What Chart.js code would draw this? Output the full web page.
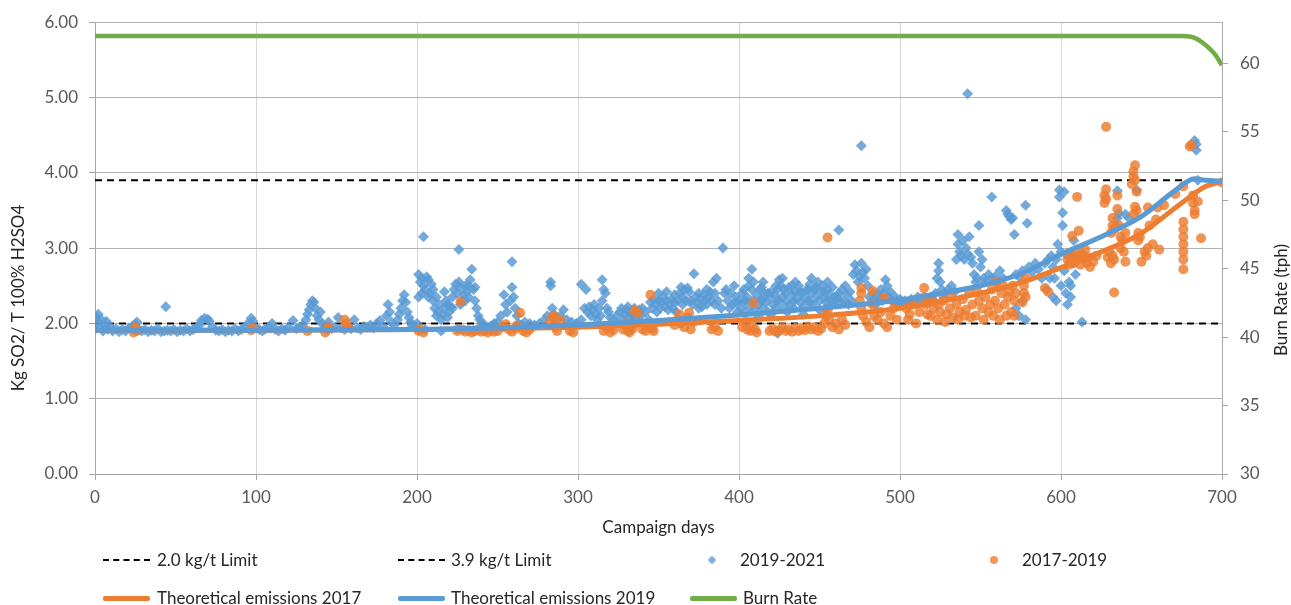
<!DOCTYPE html>
<html><head><meta charset="utf-8">
<script src="https://cdn.jsdelivr.net/npm/chart.js@4.4.0/dist/chart.umd.min.js"></script>
<style>
html,body{margin:0;padding:0;background:#fff;}
#wrap{position:relative;width:1291px;height:605px;overflow:hidden;}
canvas{position:absolute;left:0;top:0;}
.lg{position:absolute;font-family:Lato,'Open Sans',sans-serif;font-size:17px;color:#262626;white-space:nowrap;line-height:20px;}
.sw{position:absolute;}
</style></head>
<body><div id="wrap"><canvas id="c" width="1291" height="605"></canvas><div id="legend"></div></div>
<script>
// ---- DATA ----
const xTicks = [0,100,200,300,400,500,600,700];
const limit20 = [[0,2.0],[700,2.0]];
const limit39 = [[0,3.9],[700,3.9]];

// 2019-2021 measured points [campaign day, kg SO2/t]
const s2019 = [
[0,1.92],[1,2.08],[2,2.12],[2,2.02],[3,1.95],[4,2.05],[5,1.9],[6,1.98],[7,2.03],[8,1.92],[9,1.97],
[11,1.9],[13,1.93],[15,1.89],[17,1.92],[19,1.9],[21,1.94],[23,1.96],[25,1.99],[26,2.02],[27,1.93],[29,1.9],[31,1.92],[33,1.89],[35,1.91],[37,1.9],[39,1.93],[41,1.89],[43,1.9],[44,2.22],[45,1.91],[47,1.9],[49,1.92],[51,1.89],[53,1.91],[55,1.9],[57,1.93],[59,1.9],[61,1.92],[63,1.94],[65,1.98],[66,2.04],[68,2.07],[70,2.06],[71,2.03],[73,1.95],[75,1.91],[77,1.9],[79,1.92],[81,1.89],[83,1.91],[85,1.9],[87,1.93],[89,1.9],[91,1.92],[93,1.95],[95,2.0],[97,2.07],[98,2.03],[100,1.94],
[102,1.92],[104,1.9],[106,1.93],[108,1.95],[110,2.0],[112,1.92],[114,1.9],[116,1.93],[118,1.91],[120,1.95],[123,2.04],[125,1.93],[127,1.95],[129,1.98],[131,2.05],[132,2.12],[133,2.18],[134,2.25],[135,2.3],[136,2.28],[137,2.2],[138,2.1],[139,2.05],[140,2.15],[141,2.0],[143,1.96],[145,2.02],[147,1.93],[149,1.95],[151,2.08],[153,1.94],[155,1.92],[157,1.95],[159,1.93],[161,2.05],[163,1.94],[165,1.92],[167,1.96],[169,1.95],[171,1.98],[173,1.94],[175,2.0],[177,2.04],[179,1.96],[181,2.1],[182,2.25],[183,2.15],[184,2.02],[186,1.98],[188,2.05],[189,2.12],[190,2.2],[191,2.3],[192,2.38],[193,2.28],[194,2.15],[195,2.08],[196,2.02],[197,1.97],[199,1.95],[200,2.0],
[201,2.35],[201,2.65],[202,2.55],[203,2.6],[203,2.4],[204,3.15],[204,2.5],[205,2.45],[205,1.92],[206,2.62],[207,2.58],[207,2.35],[208,2.4],[209,2.52],[210,2.3],[210,2.45],[211,2.2],[212,2.1],[212,2.35],[213,2.15],[214,2.25],[215,2.05],[215,1.9],[216,2.12],[217,2.42],[217,2.2],[218,2.3],[219,2.08],[219,2.25],[220,2.15],[221,2.22],[222,2.35],[222,2.2],[223,2.45],[224,2.52],[225,2.4],[225,1.93],[226,2.98],[226,2.55],[227,2.48],[227,2.25],[228,2.3],[229,2.38],[230,2.5],[230,2.3],[231,2.42],[232,2.35],[232,2.5],[233,2.58],[234,2.72],[235,2.45],[235,1.91],[236,2.3],[236,2.48],[237,2.2],[238,2.1],[239,2.05],[240,2.0],[242,1.98],[244,1.95],[245,1.92],[246,1.97],[248,2.0],[250,2.02],[252,2.1],[254,2.38],[255,2.25],[256,2.15],[258,2.3],[259,2.82],[259,2.48],[260,2.35],[261,2.2],[262,2.1],[263,2.0],[265,1.98],[267,2.02],[270,2.0],[273,1.98],[276,2.0],[279,2.05],[281,2.1],[283,2.5],[283,2.55],[284,2.2],[285,2.12],[287,2.05],[289,2.1],[291,2.18],[293,2.05],[296,2.02],[299,2.0],
[302,2.05],[302,2.52],[304,2.2],[305,2.45],[306,2.15],[307,2.22],[308,2.1],[309,2.18],[310,2.25],[311,2.12],[312,2.05],[313,2.2],[314,2.1],[315,2.3],[315,2.58],[316,2.45],[317,2.4],[318,2.2],[319,2.15],[320,2.08],[322,2.05],[324,2.1],[326,2.15],[327,2.2],[328,2.05],[329,2.12],[330,2.18],[331,2.22],[332,2.08],[333,2.15],[334,2.1],[335,2.2],[336,2.05],[337,2.12],[338,2.18],[339,2.1],[340,2.2],[342,2.15],[344,2.05],[345,2.28],[346,2.2],[347,2.32],[348,2.25],[349,2.15],[350,2.3],[350,2.4],[351,2.2],[352,2.28],[353,2.35],[354,2.22],[355,2.3],[355,2.42],[356,2.18],[357,2.25],[358,2.32],[359,2.2],[360,2.28],[360,2.38],[361,2.15],[362,2.3],[363,2.4],[364,2.48],[365,2.35],[365,2.25],[366,2.45],[367,2.3],[368,2.47],[369,2.42],[370,2.3],[371,2.25],[372,2.66],[373,2.35],[374,2.28],[375,2.4],[375,2.2],[376,2.32],[377,2.22],[378,2.38],[379,2.3],[380,2.25],[380,2.45],[381,2.35],[382,2.42],[383,2.3],[384,2.55],[385,2.25],[385,2.4],[386,2.6],[387,2.3],[389,2.2],[390,3.0],[391,2.4],[392,2.45],[393,2.3],[394,2.2],[395,2.4],[396,2.25],[397,2.5],[398,2.35],[398,2.28],[399,2.15],[400,2.3],
[401,2.2],[402,2.4],[403,2.28],[403,2.45],[404,2.15],[404,2.3],[405,2.35],[406,2.5],[406,2.6],[407,2.22],[408,2.72],[408,2.45],[409,2.3],[409,2.55],[410,2.18],[411,2.38],[412,2.25],[412,2.1],[413,2.45],[414,2.32],[414,2.48],[414,2.3],[415,2.2],[415,2.55],[416,2.4],[417,2.28],[418,2.15],[418,2.4],[419,2.35],[420,2.42],[420,2.12],[421,2.25],[422,2.38],[423,2.2],[423,2.5],[424,2.45],[424,2.3],[424,1.87],[425,2.3],[425,2.58],[426,2.5],[427,2.6],[427,2.35],[428,2.22],[428,2.45],[429,2.4],[430,2.3],[430,2.15],[431,2.48],[432,2.25],[433,2.38],[433,2.5],[434,2.2],[434,2.3],[435,2.42],[435,2.55],[436,2.32],[437,2.5],[438,2.28],[438,2.42],[439,2.4],[440,2.22],[440,2.12],[441,2.35],[442,2.45],[443,2.3],[443,2.45],[444,2.52],[444,2.28],[445,2.4],[445,2.6],[446,2.25],[447,2.45],[448,2.35],[448,2.48],[449,2.55],[450,2.3],[450,2.18],[451,2.42],[452,2.5],[453,2.35],[453,2.42],[454,2.28],[454,2.2],[455,2.45],[455,2.55],[456,2.38],[457,2.3],[458,2.25],[458,2.48],[459,2.35],[460,2.3],
[461,2.35],[462,3.24],[462,2.4],[463,2.28],[464,2.45],[465,2.3],[466,2.5],[467,2.38],[468,2.25],[469,2.42],[470,2.3],[471,2.65],[472,2.78],[473,2.7],[474,2.55],[475,2.62],[476,4.36],[476,2.8],[477,2.68],[478,2.6],[479,2.72],[480,2.5],[481,2.35],[482,2.28],[483,2.4],[484,2.3],[485,2.25],[486,2.38],[487,2.32],[488,2.45],[489,2.3],[490,2.4],[491,2.58],[492,2.5],[493,2.35],[494,2.42],[495,2.3],[496,2.28],[497,2.35],[498,2.3],[499,2.25],[500,2.32],
[501,2.28],[503,2.3],[505,2.25],[507,2.32],[509,2.28],[511,2.35],[513,2.3],[515,2.32],[517,2.28],[519,2.35],[521,2.3],[522,2.4],[523,2.6],[524,2.7],[524,2.8],[525,2.55],[526,2.45],[527,2.35],[528,2.4],[530,2.45],[532,2.5],[534,2.42],[535,2.85],[536,3.18],[536,3.05],[537,2.95],[538,2.9],[539,3.1],[540,2.85],[541,3.0],[542,5.05],[542,2.92],[543,3.15],[544,2.88],[545,2.8],[546,2.65],[547,2.55],[548,2.6],[549,3.3],[549,2.95],[550,2.75],[551,2.85],[552,2.6],[553,2.55],[555,2.65],[557,3.68],[557,2.6],[559,2.62],[560,2.55],[562,2.7],[564,2.6],
[566,3.5],[567,3.45],[568,3.42],[569,3.38],[570,3.4],[571,3.18],[572,2.65],[572,2.2],[574,2.62],[574,2.1],[576,2.7],[576,2.3],[578,3.57],[578,2.05],[579,3.33],[580,2.75],[582,2.68],[584,2.8],[586,2.72],[588,2.6],[590,2.8],[591,2.45],[592,2.85],[593,2.6],[594,2.9],[595,2.75],[595,2.35],[596,2.6],[597,2.85],[597,2.3],[598,3.05],[599,3.68],[599,3.77],[600,2.95],[600,2.5],[601,3.3],[601,3.47],[602,3.75],[602,2.7],[603,2.4],[604,2.9],[604,2.25],[605,2.55],[606,2.35],[606,2.5],[607,2.8],[608,3.1],[609,2.65],[610,2.85],[613,2.02],
[634,3.3],[635,3.4],[635,3.76],[636,3.46],[640,3.45],[642,3.4],[647,3.77],[683,4.43],[684,4.38],[684,4.3],[685,3.9]
];

// 2017-2019 measured points [campaign day, kg SO2/t]
const s2017 = [
[24,1.88],[25,1.92],[25,1.95],[26,1.9],[97,1.91],[98,1.94],[132,1.9],[143,1.88],[144,1.92],[145,1.95],[155,2.05],[156,2.0],[157,1.96],[201,1.9],[202,1.92],[204,1.88],
[225,1.9],[227,2.29],[228,1.92],[230,1.89],[232,1.91],[234,1.88],[236,1.9],[238,1.92],[240,1.89],[242,1.9],[244,1.88],[246,1.91],[248,1.89],[250,1.9],[253,1.95],[255,1.99],[257,1.92],[259,1.89],[261,1.93],[262,1.97],[264,2.14],[266,1.9],[268,1.88],[270,1.92],[283,2.02],[284,2.08],[285,2.1],[286,1.95],[287,1.9],[289,2.05],[295,1.9],[297,1.88],
[316,1.9],[318,1.94],[319,1.97],[320,1.88],[322,1.91],[328,1.92],[329,1.98],[330,2.0],[331,1.9],[332,1.88],[333,1.95],[334,1.93],[335,2.17],[337,2.14],[340,1.92],[342,1.9],[344,1.95],[345,2.38],[346,1.93],[347,1.9],[360,1.98],[362,2.05],[363,2.12],[364,2.0],[366,1.95],[368,2.08],[369,2.14],[370,1.92],[372,2.02],[383,1.92],[385,1.95],[387,1.9],
[402,1.95],[404,2.02],[405,1.92],[407,1.9],[408,2.0],[409,2.27],[410,1.92],[411,1.88],[419,1.9],[421,1.93],[423,1.89],[425,1.91],[427,1.95],[429,1.9],[431,1.92],[433,1.89],[435,1.94],[437,1.9],[439,1.93],[441,1.91],[443,1.96],[445,1.92],[447,1.95],[449,1.9],[451,1.93],[453,2.0],[454,2.1],[455,3.14],[455,2.17],[456,2.05],
[458,1.95],[460,2.0],[462,1.92],[464,2.05],[466,1.98],[475,2.3],[476,2.47],[476,2.4],[476,2.2],[477,2.1],[479,2.02],[481,1.95],[483,2.43],[483,2.25],[484,2.1],[486,2.05],[488,2.15],[490,2.0],[490,2.34],[492,1.95],[494,2.1],[496,2.2],[498,2.05],
[504,2.2],[505,2.05],[506,2.12],[508,2.25],[510,2.0],[512,2.15],[515,2.47],[515,2.35],[516,2.25],[517,2.12],[519,2.1],[520,2.3],[521,2.2],[523,2.05],[524,2.25],[525,2.15],[527,2.3],[528,2.02],[529,2.12],[531,2.2],[532,2.35],[533,2.08],[535,2.25],[536,2.05],[537,2.15],[539,2.32],[540,2.1],[541,2.18],[543,2.4],[544,2.08],[545,2.25],[547,2.1],[548,2.42],[549,2.3],[551,2.2],[552,2.05],[553,2.35],[555,2.15],[556,2.25],[557,2.45],[558,2.1],[559,2.3],[560,2.55],[561,2.2],[562,2.05],[563,2.4],[564,2.5],[565,2.25],[566,2.1],[567,2.35],[568,2.42],[569,2.15],[570,2.5],[571,2.3],[571,2.1],[572,2.4],
[576,2.28],[577,2.4],[577,2.5],[578,2.6],[578,2.35],[590,2.47],[592,2.42],
[604,2.85],[605,2.78],[606,2.92],[607,2.88],[607,3.16],[608,2.8],[609,2.95],[610,2.85],[610,3.68],[611,2.9],[611,3.23],[612,2.78],[613,2.92],[614,2.85],[615,2.98],[616,2.8],[617,2.88],[618,2.75],[620,2.82],[622,2.9],
[627,3.6],[627,3.7],[628,4.61],[628,3.78],[628,3.65],[629,2.88],[630,2.95],[631,2.8],[631,3.2],[632,2.9],[632,3.3],[632,3.4],[633,2.85],[633,3.25],[633,2.41],[635,3.52],[635,3.7],[636,3.3],[637,3.15],[637,3.0],[638,3.1],[639,2.95],[640,3.2],[640,2.82],
[644,3.85],[645,3.95],[645,4.02],[646,4.1],[646,3.9],[647,3.75],[645,3.45],[646,3.55],[647,3.5],[648,3.1],[648,3.2],[649,3.15],[650,2.82],[652,2.95],[653,2.9],[654,3.0],[654,3.54],[655,3.3],[657,3.05],[659,3.38],[660,3.54],[661,2.98],[664,3.57],
[671,3.72],[676,2.72],[676,2.85],[676,2.95],[676,3.05],[676,3.15],[676,3.25],[676,3.35],[676,3.82],[680,4.35],[681,4.37],[682,3.7],[682,3.6],[683,3.5],[683,3.45],[685,3.62],[687,3.13],[700,3.87]
];

// Theoretical emission curves
const theoDays17 = [0,100,200,250,300,350,400,450,500,550,575,600,625,650,675,690,700];
const theoVals17 = [1.91,1.91,1.92,1.93,1.95,1.99,2.04,2.1,2.2,2.4,2.54,2.74,2.95,3.2,3.6,3.82,3.88];
const theoDays19 = [0,100,200,250,300,350,400,450,500,525,550,575,600,625,650,670,683,690,700];
const theoVals19 = [1.91,1.91,1.92,1.94,1.98,2.04,2.11,2.2,2.31,2.4,2.5,2.66,2.92,3.15,3.42,3.75,3.92,3.9,3.89];

// Burn rate (tph, right axis)
const burnDays = [0,100,200,300,400,500,600,675,680,684,688,692,696,700];
const burnVals = [62,62,62,62,62,62,62,62,61.95,61.8,61.5,61.1,60.6,59.85];

const yLeftTitle = 'Kg SO2/ T 100% H2SO4';
const yRightTitle = 'Burn Rate (tph)';
const xTitle = 'Campaign days';

// ---- BUILD ----
const toPts = a => a.map(p => ({x:p[0], y:p[1]}));
const zip = (d,v) => d.map((x,i)=>({x, y:v[i]}));
const BLUE='#5B9BD5', ORANGE='#ED7D31', GREEN='#70AD47';
const FONT = "Lato, 'Open Sans', sans-serif";

const datasets = [
 {label:'2.0 kg/t Limit', data:toPts(limit20), showLine:true, borderColor:'#000', borderWidth:2, borderDash:[7,5], pointRadius:0, order:7, yAxisID:'y'},
 {label:'3.9 kg/t Limit', data:toPts(limit39), showLine:true, borderColor:'#000', borderWidth:2, borderDash:[7,5], pointRadius:0, order:6, yAxisID:'y'},
 {label:'2019-2021', data:toPts(s2019), showLine:false, pointStyle:'rectRot', pointRadius:5.5, backgroundColor:'rgba(91,155,213,0.85)', borderWidth:0, order:5, yAxisID:'y'},
 {label:'2017-2019', data:toPts(s2017), showLine:false, pointStyle:'circle', pointRadius:5, backgroundColor:'rgba(237,125,49,0.82)', borderWidth:0, order:4, yAxisID:'y'},
 {label:'Theoretical emissions 2017', data:zip(theoDays17,theoVals17), showLine:true, borderColor:ORANGE, borderWidth:5, pointRadius:0, cubicInterpolationMode:'monotone', order:3, yAxisID:'y'},
 {label:'Theoretical emissions 2019', data:zip(theoDays19,theoVals19), showLine:true, borderColor:BLUE, borderWidth:5, pointRadius:0, cubicInterpolationMode:'monotone', order:2, yAxisID:'y'},
 {label:'Burn Rate', data:zip(burnDays,burnVals), showLine:true, borderColor:GREEN, borderWidth:4.5, pointRadius:0, cubicInterpolationMode:'monotone', order:1, yAxisID:'y2'}
];

const yTitles = {
 id:'yTitles',
 afterDraw(chart){
  const ctx = chart.ctx;
  [[yLeftTitle,19,298],[yRightTitle,1282,300]].forEach(([txt,x,y])=>{
   ctx.save();
   ctx.font = "17px " + FONT;
   ctx.fillStyle = '#262626';
   ctx.textAlign='center'; ctx.textBaseline='middle';
   ctx.translate(x, y); ctx.rotate(-Math.PI/2); ctx.fillText(txt,0,0);
   ctx.restore();
  });
 }
};

new Chart(document.getElementById('c'), {
 type:'scatter',
 data:{datasets},
 plugins:[yTitles],
 options:{
  responsive:false, animation:false, devicePixelRatio:1,
  layout:{padding:{left:0,right:0,top:22,bottom:61}},
  plugins:{legend:{display:false}, tooltip:{enabled:false}},
  scales:{
   x:{type:'linear', min:0, max:700,
      afterBuildTicks:s=>{s.ticks = xTicks.map(v=>({value:v}));},
      afterFit:s=>{s.height=70;},
      grid:{color:'#d9d9d9', tickColor:'#a6a6a6', tickLength:6, lineWidth:1},
      border:{color:'#a6a6a6', width:1},
      ticks:{color:'#595959', font:{family:FONT,size:17}, padding:7, maxRotation:0},
      title:{display:true, text:xTitle, color:'#262626', font:{family:FONT,size:17}, padding:{top:4,bottom:6}}},
   y:{position:'left', min:0, max:6,
      afterFit:s=>{s.width=95;},
      ticks:{stepSize:1, color:'#595959', font:{family:FONT,size:17}, padding:11, callback:v=>Number(v).toFixed(2)},
      grid:{color:'#b3b3b3', tickColor:'#a6a6a6', tickLength:6},
      border:{color:'#a6a6a6'}},
   y2:{position:'right', min:30, max:63,
      afterFit:s=>{s.width=69;},
      ticks:{stepSize:5, includeBounds:false, color:'#595959', font:{family:FONT,size:17}, padding:12},
      grid:{drawOnChartArea:false, tickColor:'#a6a6a6', tickLength:6},
      border:{color:'#a6a6a6'}}
  }
 }
});

// ---- HTML legend ----
const legendItems = [
 {i:0, kind:'dash', x:103, y:560, tx:157},
 {i:1, kind:'dash', x:398, y:560, tx:451},
 {i:2, kind:'diamond', x:712, y:560, tx:740},
 {i:3, kind:'circle', x:994, y:560, tx:1022},
 {i:4, kind:'line', x:103, y:598, tx:157, color:ORANGE},
 {i:5, kind:'line', x:398, y:598, tx:451, color:BLUE},
 {i:6, kind:'line', x:690, y:598, tx:743, color:GREEN}
];
const lg = document.getElementById('legend');
legendItems.forEach(it=>{
 const sw = document.createElement('div'); sw.className='sw';
 if(it.kind==='dash'){ Object.assign(sw.style,{left:it.x+'px',top:(it.y-1)+'px',width:'47px',height:'0',borderTop:'2px dashed #000'}); }
 else if(it.kind==='line'){ Object.assign(sw.style,{left:it.x+'px',top:(it.y-2.5)+'px',width:'47px',height:'5px',background:it.color,borderRadius:'2px'}); }
 else if(it.kind==='diamond'){ Object.assign(sw.style,{left:(it.x-3)+'px',top:(it.y-3)+'px',width:'6px',height:'6px',background:'rgba(91,155,213,0.8)',transform:'rotate(45deg)'}); }
 else { Object.assign(sw.style,{left:(it.x-4)+'px',top:(it.y-4)+'px',width:'8px',height:'8px',background:'rgba(237,125,49,0.8)',borderRadius:'50%'}); }
 lg.appendChild(sw);
 const t = document.createElement('div'); t.className='lg';
 t.textContent = datasets[it.i].label;
 Object.assign(t.style,{left:it.tx+'px',top:(it.y-10)+'px'});
 lg.appendChild(t);
});
</script>
</body></html>
